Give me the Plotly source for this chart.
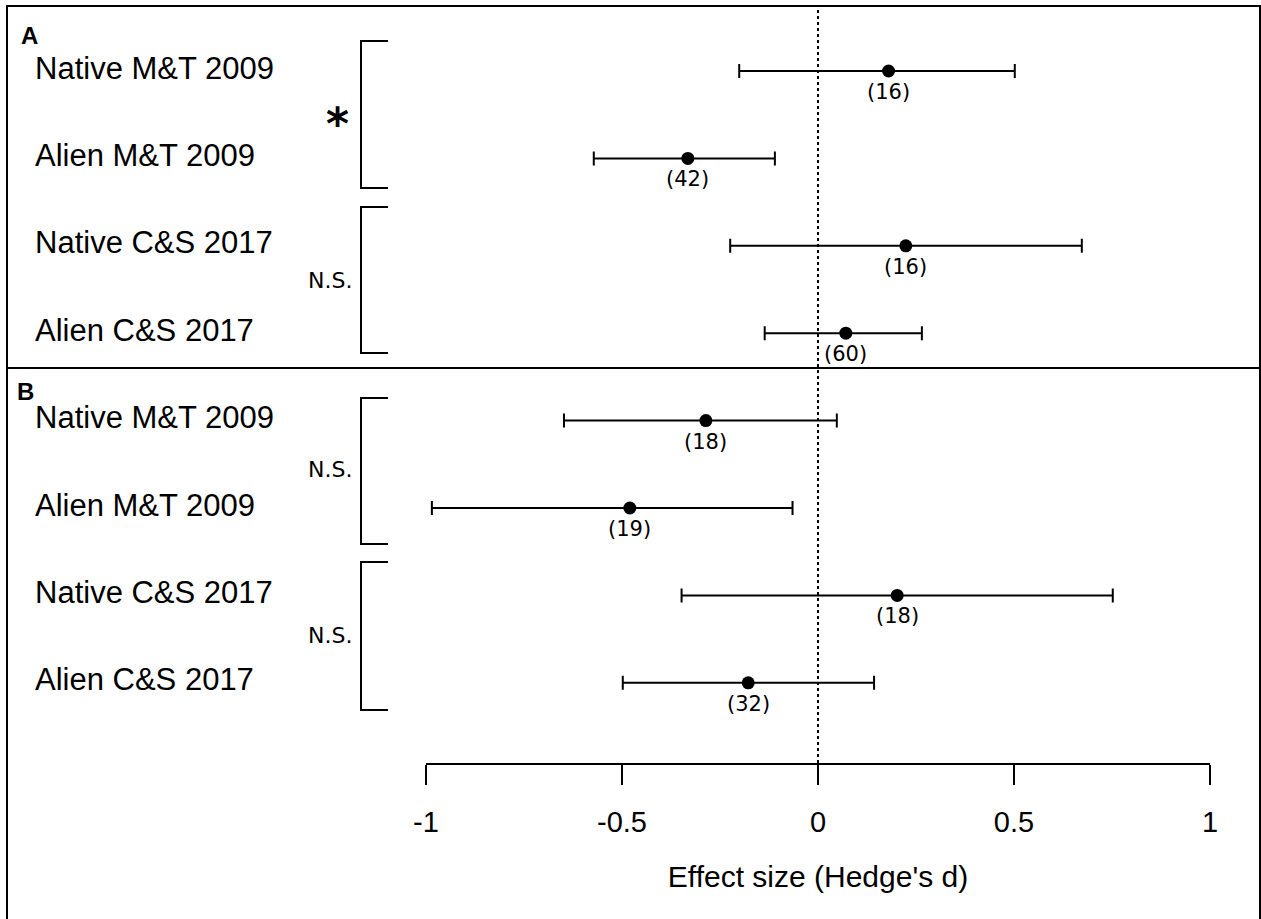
import plotly.graph_objects as go

# Forest plot of effect sizes (Hedge's d) with 95% CIs, two panels
row_labels = ["Native M&T 2009", "Alien M&T 2009", "Native C&S 2017", "Alien C&S 2017"]

est_a = [0.180, -0.332, 0.224, 0.071]
lo_a = [-0.201, -0.572, -0.224, -0.136]
hi_a = [0.502, -0.110, 0.673, 0.265]
n_a = [16, 42, 16, 60]

est_b = [-0.286, -0.480, 0.202, -0.178]
lo_b = [-0.648, -0.985, -0.348, -0.498]
hi_b = [0.048, -0.065, 0.752, 0.143]
n_b = [18, 19, 18, 32]

sig_a = ["*", "N.S."]
sig_b = ["N.S.", "N.S."]

tick_vals = [-1, -0.5, 0, 0.5, 1]
tick_text = ["-1", "-0.5", "0", "0.5", "1"]

W, H = 1261, 919
X0_PX, X_UNIT = 818, 392          # pixel of d = 0 and pixels per unit of d
ROW0_PX, ROW_STEP = 71, 87.4      # pixel of first row and row spacing
AXIS_PX = 763                     # pixel row of the x axis line


def px(x):
    return x / W


def py(y):
    return 1 - y / H


est = est_a + est_b
lo = lo_a + lo_b
hi = hi_a + hi_b
ns = n_a + n_b
rows = list(range(len(est)))

fig = go.Figure()

fig.add_trace(go.Scatter(
    x=est, y=rows, mode="markers",
    marker=dict(color="black", size=13),
    error_x=dict(type="data", symmetric=False,
                 array=[h - e for h, e in zip(hi, est)],
                 arrayminus=[e - l for e, l in zip(est, lo)],
                 color="black", thickness=2, width=7),
    showlegend=False, hoverinfo="skip",
))

# invisible trace that carries the shared effect-size axis
fig.add_trace(go.Scatter(x=[-1, 1], y=[0, 0], xaxis="x2", yaxis="y2",
                         mode="markers", marker=dict(opacity=0),
                         showlegend=False, hoverinfo="skip"))

annotations = []
shapes = []

# sample sizes under each point
for e, r, n in zip(est, rows, ns):
    annotations.append(dict(x=e, y=r, xref="x", yref="y", text=f"({n})",
                            showarrow=False, yshift=-21,
                            font=dict(family="DejaVu Sans", size=21, color="black")))

# row labels
for r in rows:
    annotations.append(dict(x=px(33), y=r, xref="paper", yref="y",
                            text=row_labels[r % 4], showarrow=False,
                            xanchor="left", yanchor="middle", yshift=3,
                            font=dict(family="Liberation Sans", size=31, color="black")))

# panel letters
annotations.append(dict(x=px(19), y=py(36), xref="paper", yref="paper", text="<b>A</b>",
                        showarrow=False, xanchor="left", yanchor="middle",
                        font=dict(family="Liberation Sans", size=24, color="black")))
annotations.append(dict(x=px(15), y=py(392), xref="paper", yref="paper", text="<b>B</b>",
                        showarrow=False, xanchor="left", yanchor="middle",
                        font=dict(family="Liberation Sans", size=24, color="black")))

# comparison brackets (top, bottom in pixels) with their significance labels
brackets = [(41, 188), (207, 353), (398, 544), (562, 710)]
sig_labels = sig_a + sig_b
sig_pos = [115, 280, 470, 635]
for (top, bot), lab, ypos in zip(brackets, sig_labels, sig_pos):
    shapes.append(dict(type="path", xref="paper", yref="paper",
                       path=f"M {px(388)},{py(top)} L {px(361)},{py(top)} "
                            f"L {px(361)},{py(bot)} L {px(388)},{py(bot)}",
                       line=dict(color="black", width=2)))
    if lab == "*":
        annotations.append(dict(x=px(351), y=py(ypos + 8), xref="paper", yref="paper",
                                text="<b>*</b>", showarrow=False, xanchor="right",
                                yanchor="middle",
                                font=dict(family="DejaVu Sans", size=44, color="black")))
    else:
        annotations.append(dict(x=px(354), y=py(ypos), xref="paper", yref="paper",
                                text=lab, showarrow=False, xanchor="right",
                                yanchor="middle",
                                font=dict(family="DejaVu Sans", size=22, color="black")))

# zero reference line
shapes.append(dict(type="line", xref="x", yref="paper", x0=0, x1=0,
                   y0=py(AXIS_PX), y1=py(7),
                   line=dict(color="black", width=2, dash="dot")))

# outer frame and panel divider
shapes.append(dict(type="rect", xref="paper", yref="paper",
                   x0=px(7), x1=px(1260), y0=-0.05, y1=py(6),
                   line=dict(color="black", width=2)))
shapes.append(dict(type="line", xref="paper", yref="paper",
                   x0=px(7), x1=px(1260), y0=py(368), y1=py(368),
                   line=dict(color="black", width=2)))

x_lo = -X0_PX / X_UNIT
x_hi = (W - X0_PX) / X_UNIT
y_top = -ROW0_PX / ROW_STEP
y_bot = (H - ROW0_PX) / ROW_STEP

fig.update_layout(
    width=W, height=H,
    margin=dict(l=0, r=0, t=0, b=0, autoexpand=False),
    paper_bgcolor="white", plot_bgcolor="rgba(0,0,0,0)",
    xaxis=dict(range=[x_lo, x_hi], domain=[0, 1], visible=False, fixedrange=True),
    yaxis=dict(range=[y_bot, y_top], domain=[0, 1], visible=False, fixedrange=True),
    xaxis2=dict(range=[-1, 1], domain=[px(426), px(1210)], anchor="y2",
                showline=True, linecolor="black", linewidth=2,
                ticks="outside", ticklen=20, tickwidth=2, tickcolor="black",
                ticklabelstandoff=12,
                tickvals=tick_vals, ticktext=tick_text, showgrid=False, zeroline=False,
                tickfont=dict(family="Liberation Sans", size=29, color="black"),
                title=dict(text="Effect size (Hedge's d)", standoff=29,
                           font=dict(family="Liberation Sans", size=30, color="black"))),
    yaxis2=dict(domain=[py(AXIS_PX), py(AXIS_PX) + 0.001], anchor="x2", visible=False),
    annotations=annotations,
    shapes=shapes,
)

fig.write_html(
    "out.html",
    config={"displayModeBar": False},
    post_script="document.documentElement.style.overflow='hidden';"
                "document.body.style.margin='0';document.body.style.overflow='hidden';",
)
